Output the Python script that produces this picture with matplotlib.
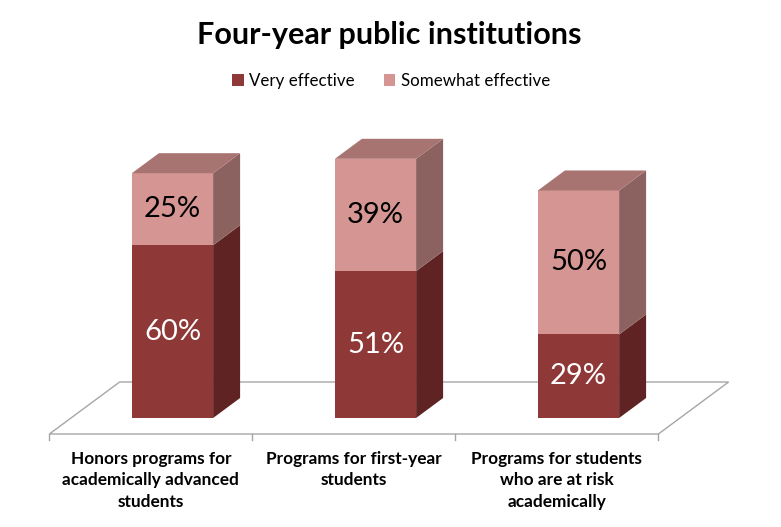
import matplotlib
matplotlib.use("Agg")
import matplotlib.pyplot as plt
from matplotlib.patches import Polygon, Patch

categories = ["Honors programs for\nacademically advanced\nstudents",
              "Programs for first-year\nstudents",
              "Programs for students\nwho are at risk\nacademically"]
very_effective = [60, 51, 29]
somewhat_effective = [25, 39, 50]
series_names = ["Very effective", "Somewhat effective"]
title = "Four-year public institutions"

FONT = ["Lato", "DejaVu Sans"]
plt.rcParams['font.family'] = FONT

W, H = 781, 527
fig = plt.figure(figsize=(W / 100, H / 100), dpi=100)
ax = fig.add_axes([0, 0, 1, 1])
px_per_cat = 203.0
px_per_pct = 2.88
x0_px, y0_px = 172.5, 418.0
ax.set_xlim(-x0_px / px_per_cat, (W - x0_px) / px_per_cat)
ax.set_ylim(-(H - y0_px) / px_per_pct, y0_px / px_per_pct)
ax.axis('off')

bw = 0.4
ddx = 27 / px_per_cat
ddy = 20 / px_per_pct

front = ['#8E3837', '#D59593']
side = ['#5E2322', '#8C6260']
top = ['#73302F', '#A87472']
txtcol = ['white', 'black']

n = len(categories)
# floor
fl, fr = -0.5, n - 0.5
floor = Polygon([(fl - 0.8 * ddx, -0.8 * ddy), (fr - 0.8 * ddx, -0.8 * ddy),
                 (fr + 1.8 * ddx, 1.8 * ddy), (fl + 1.8 * ddx, 1.8 * ddy)],
                closed=True, facecolor='white', edgecolor='#A6A6A6', lw=1.0, zorder=1)
ax.add_patch(floor)
tick_len = 6 / px_per_pct
for k in range(n + 1):
    xt = fl + k - 0.8 * ddx
    ax.plot([xt, xt], [-0.8 * ddy, -0.8 * ddy - tick_len], color='#A6A6A6', lw=1.0, zorder=1)

series = [very_effective, somewhat_effective]
for i in range(n):
    x = i
    b = 0
    for s, vals in enumerate(series):
        v = vals[i]
        t = b + v
        xl, xr = x - bw / 2, x + bw / 2
        ax.add_patch(Polygon([(xl, b), (xr, b), (xr, t), (xl, t)], closed=True,
                             facecolor=front[s], edgecolor='none', zorder=3))
        ax.add_patch(Polygon([(xr, b), (xr + ddx, b + ddy), (xr + ddx, t + ddy), (xr, t)],
                             closed=True, facecolor=side[s], edgecolor='none', zorder=3))
        if s == len(series) - 1:
            ax.add_patch(Polygon([(xl, t), (xr, t), (xr + ddx, t + ddy), (xl + ddx, t + ddy)],
                                 closed=True, facecolor=top[s], edgecolor='none', zorder=3))
        ax.text(x, b + v / 2, f"{v}%", ha='center', va='center', fontsize=21,
                color=txtcol[s], zorder=5)
        b = t

for i, c in enumerate(categories):
    ax.text(i - 0.8 * ddx, (y0_px - 451) / px_per_pct, c, ha='center', va='top',
            fontsize=12.4, fontweight='bold', color='black', linespacing=1.42)

fig.text(389 / W, 1 - 35 / H, title, ha='center', va='center', fontsize=22,
         fontweight='bold', color='black')

handles = [Patch(facecolor=front[0]), Patch(facecolor=front[1])]
fig.legend(handles, series_names, loc='center', bbox_to_anchor=(391 / W, 1 - 81 / H),
           ncol=2, frameon=False, fontsize=12.2, handlelength=0.7, handleheight=0.7,
           handletextpad=0.3, columnspacing=1.7)

fig.savefig("out.png", dpi=100)
